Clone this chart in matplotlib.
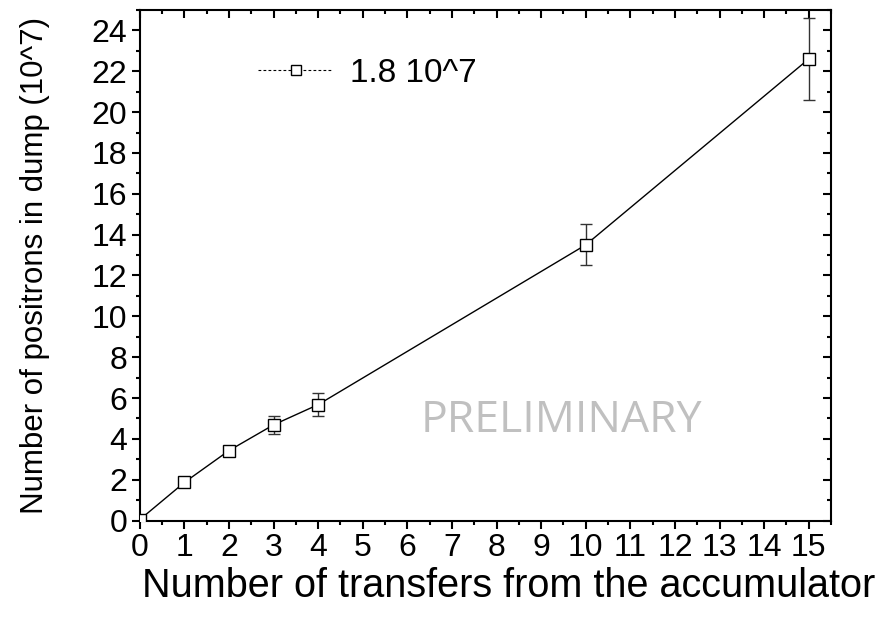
import numpy as np
import matplotlib
matplotlib.use("Agg")
import matplotlib.pyplot as plt
from matplotlib.lines import Line2D
from matplotlib.ticker import MultipleLocator

plt.rcParams["font.family"] = ["Liberation Sans", "DejaVu Sans"]

# data
transfers = [0, 1, 2, 3, 4, 10, 15]
positrons = [0.05, 1.87, 3.43, 4.69, 5.68, 13.5, 22.6]
errors = [0.0, 0.15, 0.22, 0.45, 0.55, 1.0, 2.0]
x_ticks = list(range(0, 16))
y_ticks = list(range(0, 25, 2))

fig = plt.figure(figsize=(8.85, 6.22), dpi=100)
ax = fig.add_axes([0.158, 0.163, 0.781, 0.821])

ax.errorbar(transfers, positrons, yerr=errors, color="black", lw=1,
            ecolor="#333333", elinewidth=1, capsize=4, capthick=1,
            marker="s", ms=8, mfc="white", mec="black", mew=1, zorder=3)

ax.set_xlim(0, 15.5)
ax.set_ylim(0, 25)
ax.set_xticks(x_ticks)
ax.set_yticks(y_ticks)
ax.xaxis.set_minor_locator(MultipleLocator(0.5))
ax.yaxis.set_minor_locator(MultipleLocator(1))

for s in ax.spines.values():
    s.set_linewidth(1.5)
ax.tick_params(which="both", width=1.5, labelsize=23, top=True, right=True)
ax.tick_params(which="major", length=6, pad=3)
ax.tick_params(which="minor", length=3)
ax.tick_params(axis="both", which="both", direction="out")
# top and right ticks point inward
for t in ax.xaxis.get_major_ticks() + ax.xaxis.get_minor_ticks():
    t.tick2line.set_marker(3)
for t in ax.yaxis.get_major_ticks() + ax.yaxis.get_minor_ticks():
    t.tick2line.set_marker(0)

ax.set_xlabel("Number of transfers from the accumulator", fontsize=28.5)
ax.xaxis.set_label_coords(0.533, -0.09)
ax.set_ylabel("Number of positrons in dump (10^7)", fontsize=22.5)
ax.yaxis.set_label_coords(-0.13, 0.5)

handle = Line2D([], [], color="black", lw=0.8, ls=(0, (2.5, 2)),
                marker="s", ms=7, mfc="white", mec="black", mew=1)
ax.legend([handle], ["1.8 10^7"], loc="upper left", bbox_to_anchor=(0.128, 0.965),
          frameon=False, fontsize=24, handlelength=2.25, handletextpad=0.5)

ax.text(9.45, 4.34, "PRELIMINARY", color="#c0c0c0", fontsize=32,
        family=["Open Sans", "DejaVu Sans"], ha="center", va="baseline")

fig.savefig("out.png", dpi=100)
